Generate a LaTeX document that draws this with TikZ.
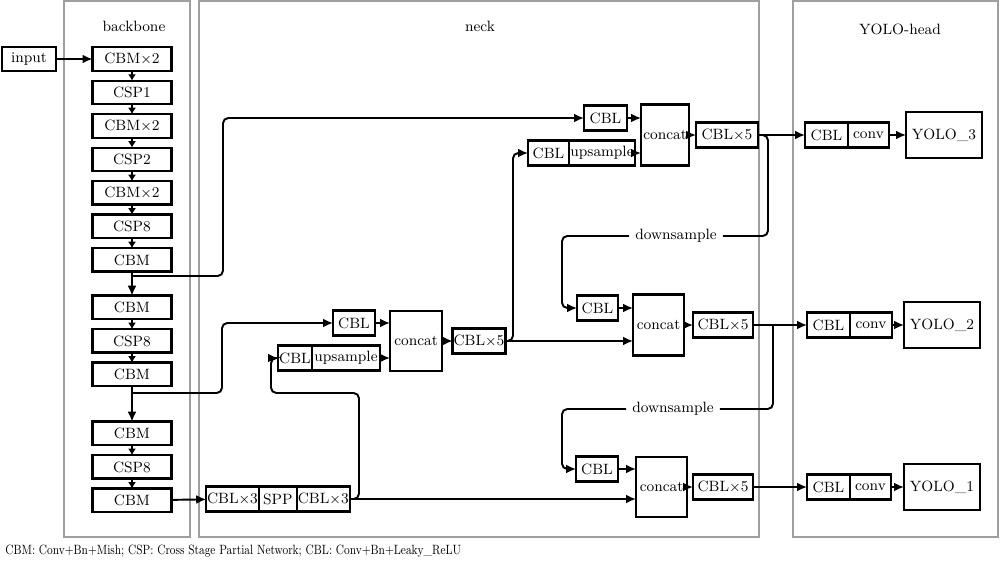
\documentclass[tikz,border=0pt]{standalone}
\usepackage{amsmath}
\usepackage{tikz}
\usetikzlibrary{arrows.meta}

\begin{document}
\begin{tikzpicture}
	[x=0.02cm, y=-0.02cm, node distance={0.67cm},
	 every node/.style={font=\fontsize{8.5}{10}\selectfont},
	 main/.style={draw, line width=1.4pt, outer sep=0pt, inner sep=0.5pt, minimum height=0.5cm},
	 bb/.style={main, minimum width=1.58cm, minimum height=0.47cm},
	 panel/.style={draw=gray!75, line width=0.6pt},
	 line/.style={line width=1.1pt, rounded corners=3pt},
	 arr/.style={line, -{Latex[length=2mm,width=1.8mm]}},
	 sarr/.style={line, -{Latex[length=1.3mm,width=1.6mm]}}]
	\useasboundingbox (0,0) rectangle (1000,562);
	\draw[panel] (64,1) rectangle (190,537);
	\draw[panel] (199,1) rectangle (759,537);
	\draw[panel] (793,1) rectangle (998,537);
	\node (t1) at (134,26) {backbone};
	\node (t2) at (480,26) {neck};
	\node (t3) at (900,29) {YOLO-head};
	% backbone
	\node[main, minimum width=1.08cm, minimum height=0.47cm] (in) at (29,59) {input};
	\node[bb] (1) at (132,59) {CBM$\times$2};
	\node[bb] (2) [below of = 1] {CSP1};
	\node[bb] (3) [below of = 2] {CBM$\times$2};
	\node[bb] (4) [below of = 3] {CSP2};
	\node[bb] (5) [below of = 4] {CBM$\times$2};
	\node[bb] (6) [below of = 5] {CSP8};
	\node[bb] (7) [below of = 6] {CBM};
	\node[bb] (8) [below of = 7, node distance=0.95cm] {CBM};
	\node[bb] (9) [below of = 8] {CSP8};
	\node[bb] (10) [below of = 9] {CBM};
	\node[bb] (11) [below of = 10, node distance=1.18cm] {CBM};
	\node[bb] (12) [below of = 11] {CSP8};
	\node[bb] (13) [below of = 12] {CBM};
	% neck
	\node[main, minimum width=1.02cm] (s1) at (232.5,499) {CBL$\times$3};
	\node[main, minimum width=0.76cm, anchor=west] (s2) at (s1.east) {SPP};
	\node[main, minimum width=1.06cm, anchor=west] (s3) at (s2.east) {CBL$\times$3};
	\node[main, minimum width=0.84cm] (mc) at (354,323) {CBL};
	\node[main, minimum width=0.68cm] (mu1) at (295,358) {CBL};
	\node[main, minimum width=1.36cm, anchor=west] (mu2) at (mu1.east) {upsample};
	\node[main, minimum width=1.04cm, minimum height=1.2cm] (mcat) at (416,341) {concat};
	\node[main, minimum width=1.04cm] (m5) at (479,341) {CBL$\times$5};
	\node[main, minimum width=0.86cm] (tc) at (605.5,118) {CBL};
	\node[main, minimum width=0.82cm] (tu1) at (548.5,153) {CBL};
	\node[main, minimum width=1.32cm, anchor=west] (tu2) at (tu1.east) {upsample};
	\node[main, minimum width=0.96cm, minimum height=1.22cm] (tcat) at (665,135) {concat};
	\node[main, minimum width=1.24cm] (t5) at (727,135) {CBL$\times$5};
	\node[main, minimum width=0.82cm] (rc) at (597.5,308) {CBL};
	\node[main, minimum width=1.02cm, minimum height=1.22cm] (rcat) at (658.5,325) {concat};
	\node[main, minimum width=1.2cm] (r5) at (723,325) {CBL$\times$5};
	\node[main, minimum width=0.84cm] (dc) at (597,469) {CBL};
	\node[main, minimum width=1.02cm, minimum height=1.2cm] (dcat) at (661.5,487) {concat};
	\node[main, minimum width=1.2cm] (d5) at (723,487) {CBL$\times$5};
	\node (ds1) at (676,236) {downsample};
	\node (ds2) at (673,409) {downsample};
	% head
	\node[main, minimum width=0.86cm] (h3a) at (826.5,135) {CBL};
	\node[main, minimum width=0.82cm, anchor=west] (h3b) at (h3a.east) {conv};
	\node[main, minimum width=1.52cm, minimum height=0.92cm] (y3) at (944,135) {YOLO\_3};
	\node[main, minimum width=0.86cm] (h2a) at (828.5,325) {CBL};
	\node[main, minimum width=0.84cm, anchor=west] (h2b) at (h2a.east) {conv};
	\node[main, minimum width=1.52cm, minimum height=0.92cm] (y2) at (942,325) {YOLO\_2};
	\node[main, minimum width=0.86cm] (h1a) at (828.5,487) {CBL};
	\node[main, minimum width=0.82cm, anchor=west] (h1b) at (h1a.east) {conv};
	\node[main, minimum width=1.52cm, minimum height=0.92cm] (y1) at (942,487) {YOLO\_1};
	\node[anchor=west, inner sep=0pt] (cap) at (5,551) {\scalebox{0.74}[0.9]{CBM: Conv+Bn+Mish; CSP: Cross Stage Partial Network; CBL: Conv+Bn+Leaky\_ReLU}};
	\coordinate (j1) at (132,276);
	\coordinate (j2) at (132,393);
	\coordinate (k2) at (773,325);
	\draw[arr] (in) -- (1);
	\foreach \a/\b in {1/2,2/3,3/4,4/5,5/6,6/7,8/9,9/10,11/12,12/13}
		\draw[sarr] (\a) -- (\b);
	\draw[arr] (7) -- (8);
	\draw[arr] (10) -- (11);
	\draw[arr] (j1) -| (223,118) -- (tc.west);
	\draw[arr] (j2) -| (222,323) -- (mc.west);
	\draw[arr] (13) -- (s1);
	\draw[arr] (s3.east) -| (359,393) -| (271,358) -- (mu1.west);
	\draw[arr] (s3.east) -- (s3.east -| dcat.west);
	\draw[arr] (mc.east) -- (mc.east -| mcat.west);
	\draw[arr] (mu2.east) -- (mu2.east -| mcat.west);
	\draw[arr] (mcat) -- (m5);
	\draw[arr] (m5.east) -| (513,153) -- (tu1.west);
	\draw[arr] (m5.east) -- (m5.east -| rcat.west);
	\draw[arr] (tc.east) -- (tc.east -| tcat.west);
	\draw[arr] (tu2.east) -- (tu2.east -| tcat.west);
	\draw[arr] (tcat) -- (t5);
	\draw[arr] (t5) -- (h3a);
	\draw[line] (t5.east) -| (768,236) -- (ds1.east);
	\draw[arr] (ds1.west) -| (562,308) -- (rc.west);
	\draw[arr] (rc.east) -- (rc.east -| rcat.west);
	\draw[arr] (rcat) -- (r5);
	\draw[arr] (r5) -- (h2a);
	\draw[line] (k2) |- (ds2.east);
	\draw[arr] (ds2.west) -| (562,469) -- (dc.west);
	\draw[arr] (dc.east) -- (dc.east -| dcat.west);
	\draw[arr] (dcat) -- (d5);
	\draw[arr] (d5) -- (h1a);
	\draw[arr] (h3b) -- (y3);
	\draw[arr] (h2b) -- (y2);
	\draw[arr] (h1b) -- (y1);
\end{tikzpicture}
\end{document}
